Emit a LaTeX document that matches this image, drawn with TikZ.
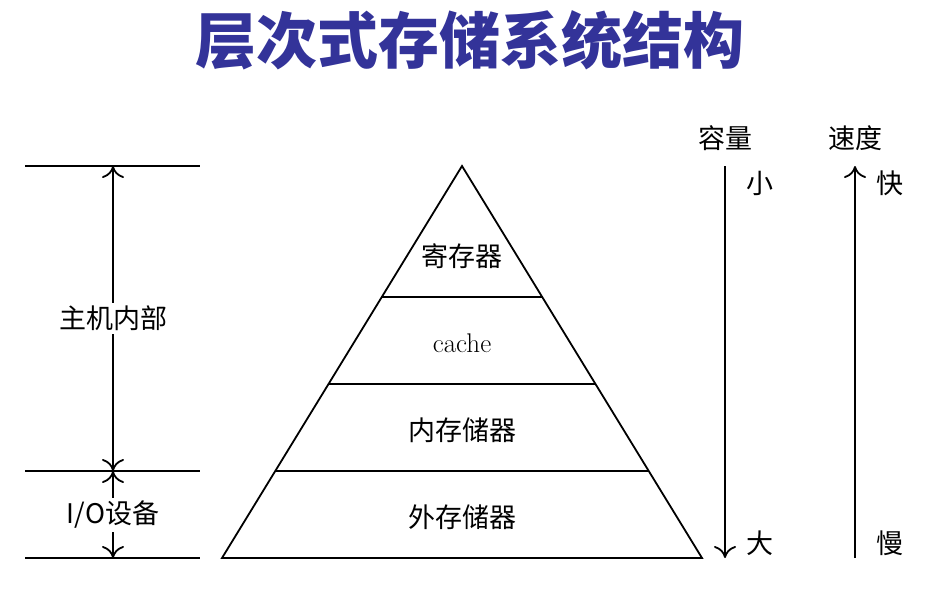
\documentclass[tikz,border=0pt]{standalone}
\usepackage{fontspec}
\usetikzlibrary{arrows.meta}
\newfontfamily\cjk{Noto Sans CJK SC}
\definecolor{titleblue}{RGB}{51,51,153}
\begin{document}
\begin{tikzpicture}[x=1pt,y=-1pt,
  lbl/.style={font=\cjk\fontsize{27}{30}\selectfont,inner sep=0pt},
  ln/.style={line width=1.8pt},
  arr/.style={line width=1.8pt,-{To[length=12pt,width=22pt]}},
  darr/.style={line width=1.8pt,{To[length=12pt,width=22pt]}-{To[length=12pt,width=22pt]}}]
\useasboundingbox (0,0) rectangle (928,592);
\node[font=\cjk\bfseries\fontsize{61}{64}\selectfont,text=titleblue] (title) at (470,40) {层次式存储系统结构};
% pyramid
\coordinate (A) at (462,166); \coordinate (B) at (222,558); \coordinate (C) at (702,558);
\draw[ln] (A) -- (B) -- (C) -- cycle;
\coordinate (l1) at (382,297); \coordinate (r1) at (542,297);
\coordinate (l2) at (329,384); \coordinate (r2) at (595,384);
\coordinate (l3) at (275,471); \coordinate (r3) at (649,471);
\draw[ln] (l1) -- (r1); \draw[ln] (l2) -- (r2); \draw[ln] (l3) -- (r3);
\node[lbl] (reg) at (462,256) {寄存器};
\node[font=\fontsize{27}{30}\selectfont,inner sep=0pt] (cache) at (462,343) {cache};
\node[lbl] (mem) at (462,430) {内存储器};
\node[lbl] (ext) at (462,517) {外存储器};
% left
\coordinate (h1a) at (25,166); \coordinate (h1b) at (200,166);
\coordinate (h2a) at (25,471); \coordinate (h2b) at (200,471);
\coordinate (h3a) at (25,558); \coordinate (h3b) at (200,558);
\draw[ln] (h1a) -- (h1b); \draw[ln] (h2a) -- (h2b); \draw[ln] (h3a) -- (h3b);
\coordinate (v1) at (113,166); \coordinate (v2) at (113,471); \coordinate (v3) at (113,558);
\draw[darr] (v1) -- (v2);
\draw[darr] (v2) -- (v3);
\node[lbl,fill=white,inner sep=3pt] (host) at (113,318) {主机内部};
\node[lbl,fill=white,inner sep=3pt] (io) at (113,515) {I/O设备};
% right
\node[lbl] (cap) at (725,138) {容量};
\node[lbl] (spd) at (855,138) {速度};
\coordinate (c1) at (725,166); \coordinate (c2) at (725,558);
\coordinate (s1) at (855,166); \coordinate (s2) at (855,558);
\draw[arr] (c1) -- (c2);
\draw[arr] (s2) -- (s1);
\node[lbl] (small) at (760,183) {小};
\node[lbl] (big) at (760,543) {大};
\node[lbl] (fast) at (890,183) {快};
\node[lbl] (slow) at (890,543) {慢};
\end{tikzpicture}
\end{document}
